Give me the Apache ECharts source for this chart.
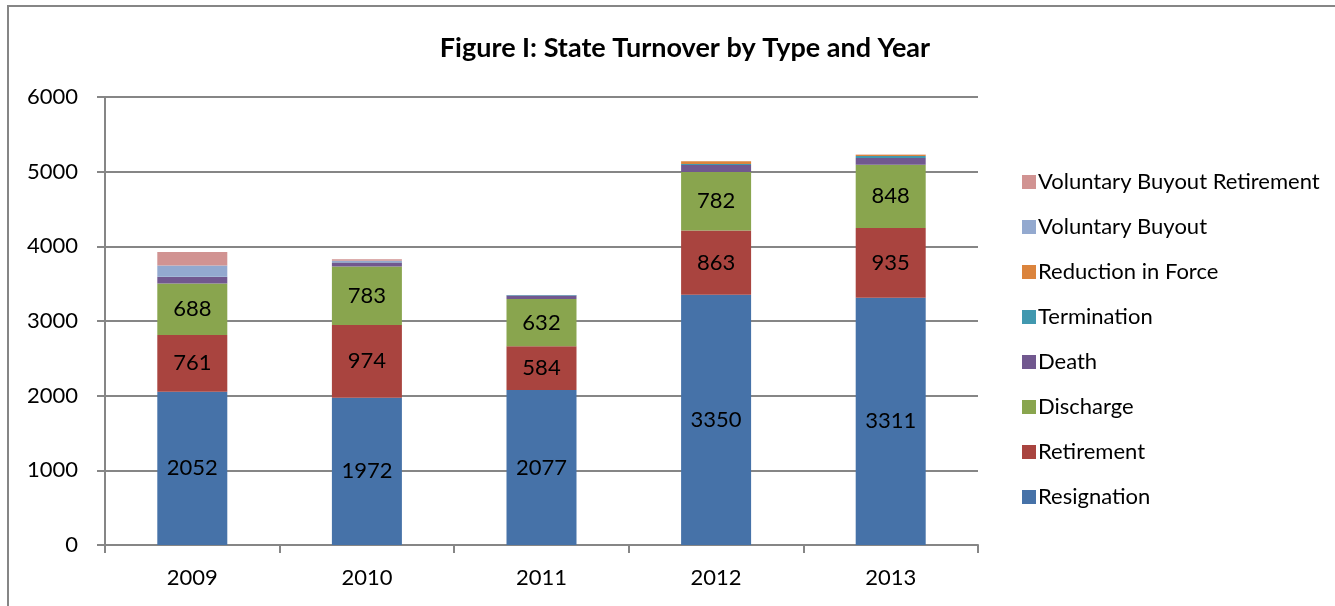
<!DOCTYPE html>
<html>
<head>
<meta charset="utf-8">
<script src="https://cdn.jsdelivr.net/npm/echarts@6/dist/echarts.min.js"></script>
<style>
html, body { margin: 0; padding: 0; background: #fff; }
#chart { width: 1335px; height: 606px; }
</style>
</head>
<body>
<div id="chart"></div>
<script>
// Turnover counts by year, stacked by separation type
const years = ['2009', '2010', '2011', '2012', '2013'];
const resignation = [2052, 1972, 2077, 3350, 3311];
const retirement = [761, 974, 584, 863, 935];
const discharge = [688, 783, 632, 782, 848];
const death = [88, 55, 50, 94, 90];
const termination = [3, 2, 4, 14, 27];
const reductionInForce = [2, 0, 0, 36, 14];
const voluntaryBuyout = [150, 22, 0, 0, 0];
const voluntaryBuyoutRetirement = [180, 18, 0, 0, 6];
const yTicks = [0, 1000, 2000, 3000, 4000, 5000, 6000];

const FONT = 'Lato, "Open Sans", sans-serif';

const seriesDefs = [
  { name: 'Resignation', data: resignation, color: '#4672A8', label: true },
  { name: 'Retirement', data: retirement, color: '#A9443F', label: true },
  { name: 'Discharge', data: discharge, color: '#89A54E', label: true },
  { name: 'Death', data: death, color: '#71588F', label: false },
  { name: 'Termination', data: termination, color: '#4198AF', label: false },
  { name: 'Reduction in Force', data: reductionInForce, color: '#DB843D', label: false },
  { name: 'Voluntary Buyout', data: voluntaryBuyout, color: '#93A9CF', label: false },
  { name: 'Voluntary Buyout Retirement', data: voluntaryBuyoutRetirement, color: '#D19392', label: false }
];

const chart = echarts.init(document.getElementById('chart'));
chart.setOption({
  animation: false,
  backgroundColor: '#fff',
  textStyle: { fontFamily: FONT },
  title: {
    text: 'Figure I: State Turnover by Type and Year',
    left: 680, top: 30, textAlign: 'center',
    textStyle: { fontFamily: FONT, fontSize: 27, fontWeight: 'bold', color: '#000' }
  },
  graphic: [{
    type: 'rect', shape: { x: 8, y: 6, width: 1340, height: 620 },
    style: { fill: 'none', stroke: '#868686', lineWidth: 2 }, silent: true
  }],
  legend: {
    orient: 'vertical', left: 1017, top: 166,
    itemWidth: 14, itemHeight: 14, itemGap: 23,
    icon: 'rect',
    data: seriesDefs.map(s => s.name).reverse(),
    textStyle: { fontFamily: FONT, fontSize: 22, color: '#000', padding: [0, 0, 0, -3] }
  },
  grid: { left: 105, right: 357, top: 97, bottom: 61 },
  xAxis: {
    type: 'category', data: years,
    axisLine: { lineStyle: { color: '#868686', width: 2 } },
    axisTick: { show: true, length: 8, lineStyle: { color: '#868686', width: 2 } },
    axisLabel: { fontFamily: FONT, fontSize: 22, color: '#000', margin: 22 }
  },
  yAxis: {
    type: 'value', min: yTicks[0], max: yTicks[yTicks.length - 1], interval: 1000,
    axisLine: { show: true, lineStyle: { color: '#868686', width: 2 } },
    axisTick: { show: true, length: 8, lineStyle: { color: '#868686', width: 2 } },
    splitLine: { lineStyle: { color: '#868686', width: 2 } },
    axisLabel: { fontFamily: FONT, fontSize: 22, color: '#000', margin: 27, formatter: v => String(v) }
  },
  series: seriesDefs.map(s => ({
    name: s.name, type: 'bar', stack: 'total', data: s.data,
    barWidth: 70,
    itemStyle: { color: s.color },
    label: {
      show: s.label, position: 'inside',
      fontFamily: FONT, fontSize: 22, color: '#000'
    }
  }))
});
</script>
</body>
</html>
